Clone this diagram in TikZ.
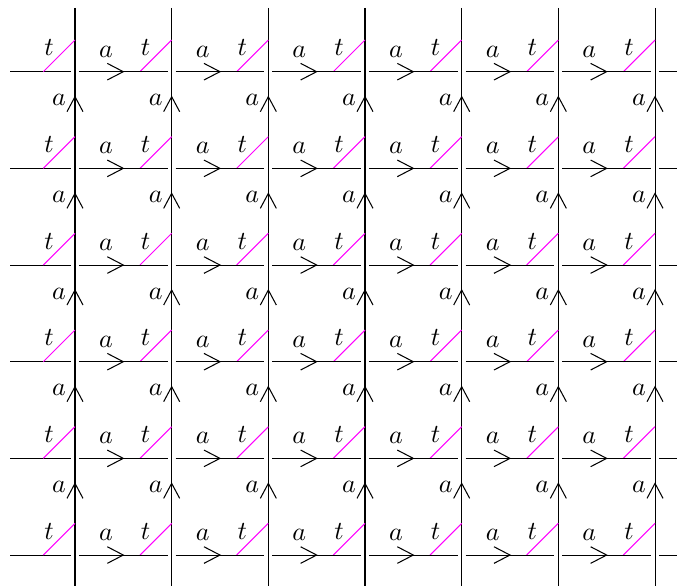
\documentclass[tikz,border=0pt]{standalone}
\definecolor{twistcol}{RGB}{255,0,255}
\begin{document}
\begin{tikzpicture}[x=0.385pt,y=-0.385pt,
  edge/.style={line width=0.4pt,black},
  twist/.style={line width=0.4pt,twistcol},
  lbl/.style={inner sep=0pt}]
\useasboundingbox (0,0) rectangle (678,586);
% vertical lines
\foreach \j in {0,...,6}{
  \pgfmathsetmacro{\vx}{75+96.67*\j}
  \coordinate (vt\j) at (\vx,8);
  \coordinate (vb\j) at (\vx,586);
  \draw[edge] (vt\j) -- (vb\j);
}
\foreach \k in {0,...,5}{
  \pgfmathsetmacro{\ry}{71.7+96.67*\k}
  % left stub
  \coordinate (ls\k) at (10,\ry);
  \coordinate (le\k) at (71,\ry);
  \draw[edge] (ls\k) -- (le\k);
  % right stub
  \coordinate (rs\k) at (659,\ry);
  \coordinate (re\k) at (677,\ry);
  \draw[edge] (rs\k) -- (re\k);
  \foreach \j in {0,...,6}{
    \pgfmathsetmacro{\vx}{75+96.67*\j}
    % magenta twist and t label
    \coordinate (m0-\k-\j) at (\vx-31.7,\ry);
    \coordinate (m1-\k-\j) at (\vx,\ry-31.7);
    \draw[twist] (m0-\k-\j) -- (m1-\k-\j);
    \node[lbl] (t-\k-\j) at (\vx-26,\ry-24) {$t$};
  }
  \foreach \j in {0,...,5}{
    \pgfmathsetmacro{\vx}{75+96.67*\j}
    % horizontal segment between verticals
    \coordinate (hs-\k-\j) at (\vx+4,\ry);
    \coordinate (he-\k-\j) at (\vx+92.67,\ry);
    \draw[edge] (hs-\k-\j) -- (he-\k-\j);
    % arrowhead
    \coordinate (ht-\k-\j) at (\vx+48.3,\ry);
    \coordinate (ha-\k-\j) at (\vx+32.3,\ry-8.3);
    \coordinate (hb-\k-\j) at (\vx+32.3,\ry+8.3);
    \draw[edge] (ha-\k-\j) -- (ht-\k-\j) -- (hb-\k-\j);
    \node[lbl] (ah-\k-\j) at (\vx+31,\ry-20) {$a$};
  }
}
% vertical arrows between rows
\foreach \k in {0,...,4}{
  \pgfmathsetmacro{\ry}{71.7+96.67*\k}
  \foreach \j in {0,...,6}{
    \pgfmathsetmacro{\vx}{75+96.67*\j}
    \coordinate (vtp-\k-\j) at (\vx,\ry+25);
    \coordinate (va-\k-\j) at (\vx-8,\ry+40);
    \coordinate (vb-\k-\j) at (\vx+8,\ry+40);
    \draw[edge] (va-\k-\j) -- (vtp-\k-\j) -- (vb-\k-\j);
    \node[lbl] (av-\k-\j) at (\vx-16,\ry+28.6) {$a$};
  }
}
\end{tikzpicture}
\end{document}
